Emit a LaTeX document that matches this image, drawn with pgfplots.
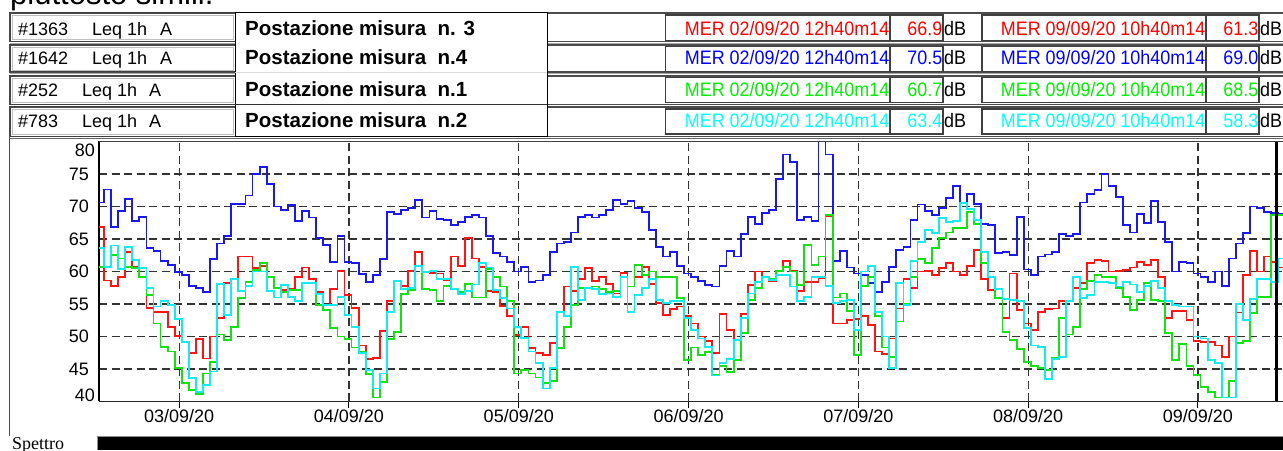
\documentclass[border=0pt]{standalone}
\usepackage{pgfplots}
\pgfplotsset{compat=1.18}
\usepackage{pgfplotstable}
\usepackage{fontspec}
\setmainfont{Liberation Sans}
\newfontfamily\seriffont{Liberation Serif}
\newcommand\fs[1]{\fontsize{#1}{#1}\selectfont}
\definecolor{cred}{RGB}{255,20,20}
\definecolor{cblue}{RGB}{25,25,235}
\definecolor{cgreen}{RGB}{20,225,20}
\definecolor{ccyan}{RGB}{20,235,240}
\definecolor{tred}{RGB}{255,0,0}
\definecolor{tblue}{RGB}{0,0,255}
\definecolor{tgreen}{RGB}{0,240,0}
\definecolor{tcyan}{RGB}{0,255,255}

% x = hours from 02/09/20 12h40 ; r = #1363 (n.3), b = #1642 (n.4), g = #252 (n.1), c = #783 (n.2)
\pgfplotstableread{
x r b g c
0 66.9 70.6 60.7 63.6
0.7 58.6 72.6 60.7 60.7
1.7 57.8 66.9 62.5 64.0
2.7 59.1 69.3 62.0 60.4
3.7 63.0 71.1 60.7 63.8
4.7 60.7 67.8 60.5 61.8
5.7 60.5 68.4 59.1 60.5
6.7 54.4 63.6 56.4 57.4
7.7 53.8 63.2 52.0 54.6
8.7 53.8 61.6 48.4 55.4
9.7 51.4 61.0 47.7 54.8
10.7 50.1 59.9 45.2 52.7
11.7 49.1 59.4 42.8 49.2
12.7 47.4 57.8 41.8 43.6
13.7 49.6 57.5 41.1 41.5
14.7 46.6 56.9 44.3 42.5
15.7 50.0 61.9 46.1 44.6
16.7 52.9 64.3 50.3 58.1
17.7 58.2 65.4 49.5 53.3
18.7 58.9 70.4 51.5 58.8
19.7 62.3 70.4 55.9 57.0
20.7 62.3 71.7 58.4 57.8
21.7 60.5 75.0 60.2 60.0
22.7 60.8 76.1 61.3 60.0
23.7 59.2 73.4 59.2 57.0
24.7 57.4 70.0 57.5 56.0
25.7 57.2 69.5 56.9 57.9
26.7 57.3 70.2 57.2 56.1
27.7 59.1 67.8 57.2 55.5
28.7 60.6 69.3 58.2 58.2
29.7 58.8 68.3 58.2 58.2
30.7 56.9 65.2 54.9 56.5
31.7 54.8 64.1 54.1 54.8
32.7 57.3 61.4 51.3 54.8
33.7 60.1 65.4 50.0 56.1
34.7 56.4 61.4 49.6 53.3
35.7 54.4 61.3 48.3 51.4
36.7 48.6 59.6 47.7 47.4
37.7 46.5 58.4 44.2 44.8
38.7 46.7 59.5 40.6 42.0
39.7 50.9 61.9 43.0 44.3
40.7 55.5 69.1 49.6 53.8
41.7 58.5 68.8 50.7 58.5
42.7 57.8 69.5 56.5 57.3
43.7 60.1 69.8 57.2 57.5
44.7 63.0 71.0 60.9 60.9
45.7 59.9 68.3 57.3 59.9
46.7 59.8 69.3 57.2 60.1
47.7 59.7 68.1 55.5 58.8
48.7 58.6 67.9 57.8 58.8
49.7 62.3 67.2 57.3 57.3
50.7 60.8 67.6 56.9 56.5
51.7 65.1 68.4 58.1 57.0
52.7 62.0 68.7 56.0 58.0
53.7 60.7 68.3 56.0 61.3
54.7 57.0 65.5 60.4 60.6
55.7 56.8 62.8 59.1 57.2
56.7 54.7 62.3 57.7 55.9
57.7 53.1 61.4 55.5 54.3
58.7 50.2 60.0 44.3 51.5
59.7 51.4 60.7 44.8 49.8
60.7 48.2 58.4 44.3 47.7
61.7 47.4 58.6 43.7 45.9
62.7 47.1 59.5 42.8 42.0
63.7 49.0 63.0 43.1 45.1
64.7 53.8 64.3 48.2 53.8
65.7 57.7 64.5 51.5 53.1
66.7 57.0 66.0 54.8 60.7
67.7 58.8 68.4 57.5 55.6
68.7 60.5 68.7 57.5 57.5
69.7 58.5 68.3 57.7 57.3
70.7 59.2 68.7 57.3 56.5
71.7 58.1 69.5 56.8 56.6
72.7 56.6 71.0 57.0 56.1
73.7 59.8 70.4 59.2 59.2
74.7 57.7 70.8 57.7 53.8
75.7 59.1 69.8 61.0 56.4
76.7 60.7 69.1 59.5 57.5
77.7 58.1 66.4 60.0 58.9
78.7 55.1 63.8 59.2 55.6
79.7 53.3 62.3 59.1 55.1
80.7 54.2 63.0 59.1 55.5
81.7 54.6 60.9 55.9 55.5
82.7 53.1 59.7 46.4 52.8
83.7 52.0 59.2 48.3 51.0
84.7 50.0 58.5 47.1 49.7
85.7 49.3 57.9 47.6 48.4
86.7 47.4 57.7 44.1 44.0
87.7 53.4 60.9 45.4 45.9
88.7 51.0 63.2 44.5 46.5
89.7 49.5 62.3 46.4 49.5
90.7 53.5 65.8 50.5 52.9
91.7 57.9 68.4 55.6 56.6
92.7 60.0 67.3 57.4 58.4
93.7 59.2 69.0 59.1 59.2
94.7 58.5 69.5 58.9 58.7
95.7 60.0 74.2 60.1 59.5
96.7 61.6 78.0 60.7 59.4
97.7 60.1 76.9 60.0 57.7
98.7 57.0 67.9 57.9 55.5
99.7 58.4 68.4 64.1 56.1
100.7 58.4 67.8 61.0 59.1
101.7 59.0 80.1 62.3 59.1
102.7 68.5 78.0 68.7 57.8
103.7 52.0 61.6 56.0 55.1
104.7 52.0 63.2 56.6 55.5
105.7 52.5 60.6 53.9 55.6
106.7 52.7 59.7 47.2 51.0
107.7 53.1 59.4 57.8 60.0
108.7 51.8 58.2 59.2 60.9
109.7 47.7 56.9 53.1 53.8
110.7 47.3 58.4 48.3 50.0
111.7 49.7 60.7 46.9 45.1
112.7 54.3 63.3 52.3 58.2
113.7 58.8 63.8 55.0 54.8
114.7 57.4 67.9 59.1 61.6
115.7 60.0 70.3 61.9 64.5
116.7 60.1 69.3 61.3 66.4
117.7 59.5 68.7 63.6 65.9
118.7 60.5 69.8 65.2 68.2
119.7 61.3 71.3 66.0 67.6
120.7 60.0 73.2 66.7 67.8
121.7 59.5 70.5 66.7 70.5
122.7 60.9 71.9 69.1 69.6
123.7 63.3 70.4 67.3 67.9
124.7 58.8 67.3 61.3 63.0
125.7 57.2 67.1 59.1 59.1
126.7 55.9 62.8 55.9 57.3
127.7 52.8 63.0 50.7 55.8
128.7 59.7 62.5 49.5 55.6
129.7 54.1 68.4 48.1 55.4
130.7 52.0 60.3 46.1 51.3
131.7 51.0 59.5 45.5 48.6
132.7 53.8 62.3 45.1 48.4
133.7 54.2 62.6 44.8 43.5
134.7 54.3 63.0 46.7 46.5
135.7 55.5 65.8 52.9 46.9
136.7 55.5 65.4 50.3 55.4
137.7 57.4 65.8 51.4 59.1
138.7 58.2 70.6 57.3 55.9
139.7 61.3 71.9 58.5 56.4
140.7 61.8 72.5 59.4 58.4
141.7 61.6 75.0 59.2 58.4
142.7 60.0 73.1 59.2 58.2
143.7 60.1 71.5 57.5 57.7
144.7 60.2 67.2 56.1 58.4
145.7 60.6 66.0 54.1 58.0
146.7 61.4 68.8 55.6 56.9
147.7 61.0 67.4 58.2 57.8
148.7 61.8 70.8 55.6 58.5
149.7 59.1 67.6 55.4 57.4
150.7 52.8 64.5 50.5 55.4
151.7 53.9 60.0 46.4 54.8
152.7 53.9 61.4 48.8 54.6
153.7 52.5 61.3 45.5 54.6
154.7 49.3 59.7 44.1 50.0
155.7 49.2 59.1 42.2 49.7
156.7 49.1 58.4 41.4 46.4
157.7 48.6 60.0 40.6 45.9
158.7 46.9 57.8 40.6 40.6
159.7 50.0 62.0 43.1 40.6
160.7 53.7 64.3 49.0 55.0
161.7 59.5 65.9 49.3 52.5
162.7 63.2 70.0 53.6 55.8
163.7 60.0 69.8 56.1 58.8
164.7 62.3 69.1 56.1 58.8
165.7 61.4 69.0 68.7 58.4
166.7 60.6 68.9 68.7 62.0
167.7 60.6 68.9 68.7 62.0
}\dataT

\newcommand\hdrrow[8]{%
  \node[anchor=base west,inner sep=0pt,font=\fs{18}] at (18,#1) {#2};
  \node[anchor=base west,inner sep=0pt,font=\fs{18}] at (#3,#1) {Leq 1h};
  \node[anchor=base west,inner sep=0pt,font=\fs{18}] at (#4,#1) {A};
  \node[anchor=base west,inner sep=0pt,font=\bfseries\fs{20.5}] at (245,#1) {#5};
  \node[anchor=base east,inner sep=0pt,text=#6] at (889.5,#1) {\scalebox{0.92}[1]{\fs{19.5}MER 02/09/20 12h40m14}};
  \node[anchor=base east,inner sep=0pt,text=#6] at (942.5,#1) {\scalebox{0.92}[1]{\fs{19.5}#7}};
  \node[anchor=base west,inner sep=0pt] at (944,#1) {\scalebox{0.92}[1]{\fs{19.5}dB}};
  \node[anchor=base east,inner sep=0pt,text=#6] at (1205.5,#1) {\scalebox{0.92}[1]{\fs{19.5}MER 09/09/20 10h40m14}};
  \node[anchor=base east,inner sep=0pt,text=#6] at (1258.5,#1) {\scalebox{0.92}[1]{\fs{19.5}#8}};
  \node[anchor=base west,inner sep=0pt] at (1260,#1) {\scalebox{0.92}[1]{\fs{19.5}dB}};
}
\newcommand\rowframe[4]{% #1 bottom, #2 top, #3 box bottom, #4 box top
  \draw[black!70,line width=1.2] (10,#1) rectangle (1300,#2);
  \draw[black!35,line width=1] (10,#1-2) -- (1300,#1-2);
  \draw[black!75,line width=1] (10,#1) rectangle (235,#2);
  \draw[black!25,line width=0.8] (12.5,#1+2) rectangle (233,#2-2);
  \draw[black!75,line width=1.2] (665.7,#3) rectangle (890,#4);
  \draw[black!75,line width=1.2] (890,#3) rectangle (943,#4);
  \draw[black!75,line width=1.2] (982,#3) rectangle (1206,#4);
  \draw[black!75,line width=1.2] (1206,#3) rectangle (1259,#4);
}

\begin{document}
\begin{tikzpicture}
\useasboundingbox (0pt,0pt) rectangle (1283pt,450pt);
\clip (0pt,0pt) rectangle (1283pt,450pt);
\begin{scope}[x=1pt,y=1pt]
  \fill[white] (0,0) rectangle (1283,450);
  \node[anchor=base west,inner sep=0pt,font=\fs{31}] at (10,445) {piuttosto simili.};
  \rowframe{408.5}{437}{409.3}{435}
  \rowframe{378}{405}{378.3}{403.3}
  \rowframe{345.5}{374}{347.3}{372.3}
  \rowframe{313.5}{343}{316}{341}
  \filldraw[draw=black,fill=white,line width=1] (235,313.3) rectangle (547,437.3);
  \draw[black!15,line width=1] (235,377.3) -- (547,377.3);
  \draw[black!80,line width=1] (235,345) -- (547,345);
  \hdrrow{414.5}{\#1363}{92}{160}{Postazione misura\ \ n. 3}{tred}{66.9}{61.3}
  \hdrrow{385}{\#1642}{92}{160}{Postazione misura\ \ n.4}{tblue}{70.5}{69.0}
  \hdrrow{353.5}{\#252}{82}{149}{Postazione misura\ \ n.1}{tgreen}{60.7}{68.5}
  \hdrrow{322}{\#783}{82}{149}{Postazione misura\ \ n.2}{tcyan}{63.4}{58.3}
  \draw[black!60,line width=1.2] (9.5,311.3) -- (1283,311.3);
  \draw[black!70,line width=1.2] (9.5,14) -- (9.5,313.5);
\end{scope}
\begin{axis}[
  at={(99pt,48.5pt)}, anchor=south west,
  width=1184pt, height=260pt, scale only axis,
  xmin=0, xmax=167.35, ymin=40, ymax=80,
  axis x line*=bottom, axis y line*=left,
  x axis line style={black!85, line width=1.3pt, -},
  y axis line style={black, line width=2.6pt, -},
  xtick={11.333,35.333,59.333,83.333,107.333,131.333,155.333},
  xticklabels={03/09/20,04/09/20,05/09/20,06/09/20,07/09/20,08/09/20,09/09/20},
  tick align=outside,
  major tick length=6pt,
  xtick style={black, line width=1pt},
  ytick={45,50,...,75},
  ytick style={draw=none},
  yticklabel style={font=\fs{18}, anchor=east, inner sep=0pt, xshift=-4pt},
  xticklabel style={font=\fs{18}, anchor=north, inner sep=0pt, yshift=-2pt},
  /pgf/number format/assume math mode=true,
  grid=major,
  major grid style={black!80, dash pattern=on 8pt off 4.5pt, line width=1.1pt},
]
\addplot[const plot, cred, line width=1.8pt] table[x=x, y=r] {\dataT};
\addplot[const plot, cblue, line width=1.8pt] table[x=x, y=b] {\dataT};
\addplot[const plot, cgreen, line width=1.8pt] table[x=x, y=g] {\dataT};
\addplot[const plot, ccyan, line width=1.8pt] table[x=x, y=c] {\dataT};
\addplot[black, line width=3pt] coordinates {(166.42,40) (166.42,80)};
\draw[black!75, line width=1.3pt] (rel axis cs:0,1) -- (rel axis cs:1,1);
\end{axis}
\begin{scope}[x=1pt,y=1pt]
  \node[anchor=east,inner sep=0pt,font=\fs{18}] at (95,300) {80};
  \node[anchor=east,inner sep=0pt,font=\fs{18}] at (95,55) {40};
  \fill[black] (97,0) rectangle (1283,13.5);
  \draw[black!45,line width=1] (97,0) -- (97,13.5) -- (1283,13.5);
  \node[anchor=base west,inner sep=0pt,font=\seriffont\fs{18}] at (12,0.3) {Spettro};
\end{scope}
\end{tikzpicture}
\end{document}
